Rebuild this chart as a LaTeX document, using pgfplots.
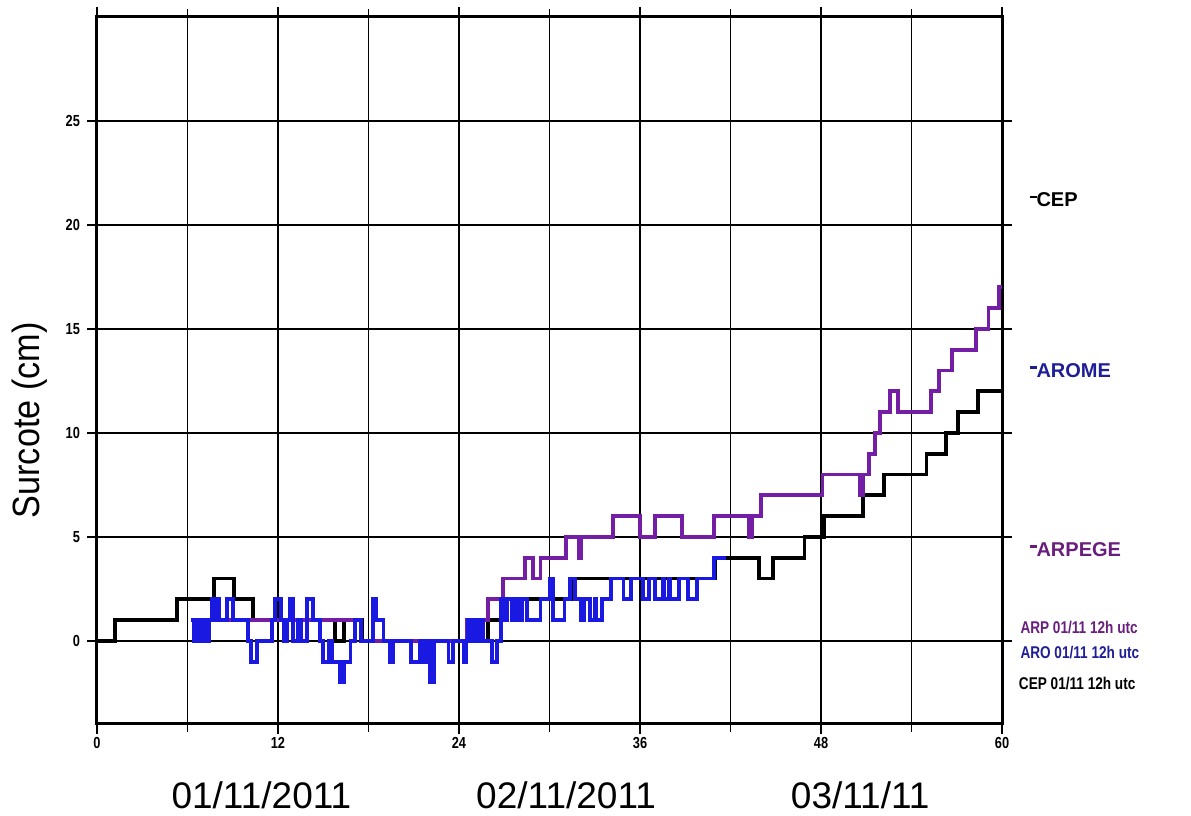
\documentclass[border=0pt]{standalone}
\usepackage{pgfplots}
\pgfplotsset{compat=1.18}
\usepackage{fontspec}
\setmainfont{Liberation Sans}
\newfontfamily\condfont[FakeStretch=0.8]{Liberation Sans}
\newfontfamily\labfont[FakeStretch=0.9]{Liberation Sans}
\definecolor{arpC}{RGB}{115,30,165}
\definecolor{aroC}{RGB}{25,25,225}
\definecolor{arpT}{RGB}{105,30,125}
\definecolor{aroT}{RGB}{30,30,150}
\newcommand{\dash}{\raisebox{0.8ex}{\rule{3.5pt}{1.3pt}}}
\begin{document}
\begin{tikzpicture}
\begin{axis}[
  name=ax, at={(0,0)}, anchor=south west,
  scale only axis, width=452.5pt, height=353.5pt,
  xmin=0, xmax=60, ymin=-4, ymax=30,
  xtick={0,12,...,60}, minor xtick={6,18,...,54},
  ytick={0,5,...,25},
  grid=both,
  major grid style={black, line width=0.7pt},
  minor grid style={black, line width=0.7pt},
  axis line style={line width=1.5pt},
  tick align=outside, xtick pos=both, ytick pos=both,
  major tick length=5pt, minor tick length=4pt,
  every tick/.style={black, line width=0.8pt},
  /pgf/number format/assume math mode=true,
  ticklabel style={font=\condfont\bfseries\fontsize{8}{9}\selectfont},
  yticklabel pos=left, xticklabel pos=bottom,
  xticklabel style={yshift=2pt},
  clip=false,
  const plot,
]
% CEP
\addplot[black, line width=1.9pt] coordinates {
(0,0) (1.2,1) (5.3,2) (7.75,3) (9.1,2) (10.35,1) (15.8,0) (16.4,1) (17.6,0)
(21.7,-1) (22.2,0) (25.9,1) (26.9,2) (31.6,3) (41.0,4) (43.9,3) (44.8,4)
(46.9,5) (48.2,6) (50.8,7) (52.2,8) (55.0,9) (56.3,10) (57.1,11) (58.4,12) (60,12)
};
% ARPEGE
\addplot[arpC, line width=1.9pt] coordinates {
(6.2,1) (17.5,0) (24.5,1) (25.9,2) (26.9,3) (28.4,4) (28.9,3) (29.4,4) (31.1,5)
(31.95,4) (32.1,5) (34.2,6) (36.0,5) (37.0,6) (38.8,5) (40.9,6) (43.2,5) (43.4,6)
(44.0,7) (48.1,8) (50.6,7) (50.8,8) (51.2,9) (51.6,10) (51.9,11) (52.6,12) (53.1,11)
(55.3,12) (55.8,13) (56.7,14) (58.3,15) (59.1,16) (59.8,17) (60,17)
};
% AROME
\addplot[aroC, line width=1.9pt] coordinates {
(6.2,1) (6.4,0) (6.6,1) (6.8,0) (7.0,1) (7.2,0) (7.4,1) (7.6,2) (7.8,1) (7.95,2)
(8.1,1) (8.6,2) (9.0,1) (10.0,0) (10.2,-1) (10.6,0) (11.6,1) (11.8,2) (12.2,1)
(12.4,0) (12.6,1) (12.8,2) (13.0,0) (13.3,1) (13.5,0) (13.9,2) (14.3,1) (14.8,0)
(15.0,-1) (15.4,0) (15.6,-1) (16.1,-2) (16.4,-1) (16.8,0) (17.1,1) (17.5,0)
(18.3,2) (18.5,1) (19.0,0) (19.4,-1) (19.6,0) (20.8,-1) (21.4,0) (21.6,-1)
(21.9,0) (22.1,-2) (22.35,0) (23.3,-1) (23.6,0) (24.3,-1) (24.5,0) (24.6,1)
(24.8,0) (25.0,1) (25.2,0) (25.4,1) (25.6,0) (26.2,-1) (26.5,0) (26.8,2) (27.0,1)
(27.2,2) (27.5,1) (27.8,2) (28.0,1) (28.2,2) (28.5,1) (29.4,2) (30.0,3) (30.25,1)
(31.0,2) (31.35,3) (31.7,2) (32.1,1) (32.3,2) (32.7,1) (33.0,2) (33.1,1) (33.5,2)
(34.1,3) (34.9,2) (35.4,3) (36.2,2) (36.6,3) (37.0,2) (37.5,3) (37.6,2) (37.9,3)
(38.0,2) (38.6,3) (39.2,2) (39.8,3) (40.9,4) (41.7,4)
};
% labels
\node[rotate=90, font=\labfont\fontsize{19}{22}\selectfont] at ([xshift=-33.5pt]axis cs:0,10.6) {Surcote (cm)};
\node[font=\fontsize{18.5}{22}\selectfont] at (axis cs:10.9,-7.45) {01/11/2011};
\node[font=\fontsize{18.5}{22}\selectfont] at (axis cs:31.1,-7.45) {02/11/2011};
\node[font=\fontsize{18.5}{22}\selectfont] at (axis cs:50.6,-7.45) {03/11/11};
\node[anchor=west, inner sep=0pt, font=\bfseries\fontsize{10}{12}\selectfont, text=black] at (axis cs:61.8,21.2) {\dash CEP};
\node[anchor=west, inner sep=0pt, font=\bfseries\fontsize{10}{12}\selectfont, text=aroT] at (axis cs:61.8,13.0) {\dash AROME};
\node[anchor=west, inner sep=0pt, font=\bfseries\fontsize{10}{12}\selectfont, text=arpT] at (axis cs:61.8,4.4) {\dash ARPEGE};
\node[anchor=west, inner sep=0pt, font=\condfont\bfseries\fontsize{8.5}{10}\selectfont, text=arpT] at (axis cs:61.2,0.62) {ARP 01/11 12h utc};
\node[anchor=west, inner sep=0pt, font=\condfont\bfseries\fontsize{8.5}{10}\selectfont, text=aroT] at (axis cs:61.2,-0.57) {ARO 01/11 12h utc};
\node[anchor=west, inner sep=0pt, font=\condfont\bfseries\fontsize{8.5}{10}\selectfont, text=black] at (axis cs:61.1,-2.06) {CEP 01/11 12h utc};
\end{axis}
\path (ax.south west) ++(-48.5pt,-44pt) rectangle ++(595.5pt,406pt);
\end{tikzpicture}
\end{document}
